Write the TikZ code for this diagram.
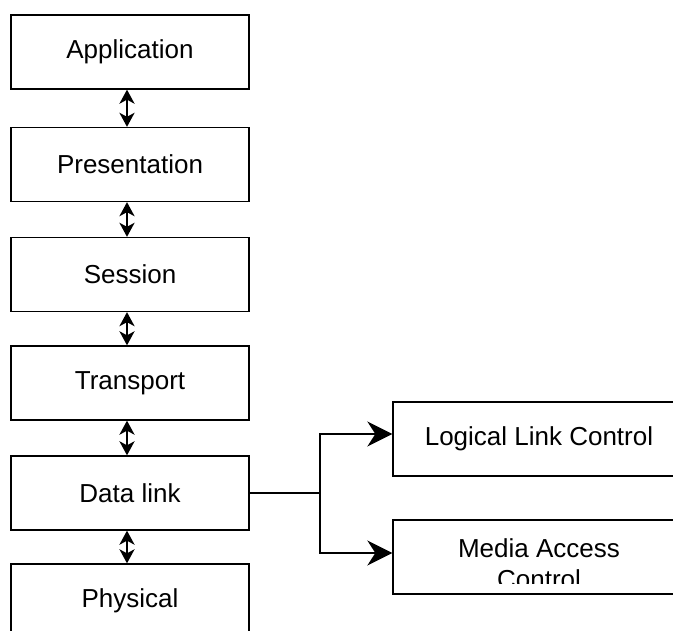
\documentclass[tikz,border=0pt]{standalone}
\usepackage{fontspec}
\setmainfont{Liberation Sans}
\usetikzlibrary{arrows.meta}
\tikzset{
    layer/.style={rectangle, draw, line width=1.3pt, minimum width=238pt,
    	minimum height=74pt, inner sep=0pt, font=\fontsize{26}{31}\selectfont}
}
\tikzset{
    sublayer/.style={layer, minimum width=292pt, align=center}
}
\tikzset{
    updown/.style={line width=2.5pt,
    	{Stealth[length=14pt,width=15pt,inset=4pt]}-{Stealth[length=14pt,width=15pt,inset=4pt]}},
    split/.style={line width=1.7pt, -{Stealth[length=25pt,width=25pt,inset=8pt]}}
}

\begin{document}
\begin{tikzpicture}[x=1pt, y=-1pt]
  \useasboundingbox (0,0) rectangle (673,631);
  \clip (0,0) rectangle (673,631);

  \node (app) [layer] at (130, 52) {Application};
  \node (pres) [layer] at (130, 164.5) {Presentation};
  \node (sess) [layer] at (130, 274.5) {Session};
  \node (trans) [layer] at (130, 383) {Transport};
  \node (dl) [layer] at (130, 493) {Data link};
  \node (phys) [layer] at (130, 601) {Physical};

  \node (llc) [sublayer] at (539, 439) {Logical Link Control};
  \node (mac) [sublayer] at (539, 557) {};
  \begin{scope}
    \clip (393, 520) rectangle (690, 583);
    \node (mactext) [font=\fontsize{26}{31}\selectfont, align=center] at (539, 564) {Media Access\\Control};
  \end{scope}

  \coordinate (fork) at (320, 493);

  \draw [updown] ([xshift=-3pt]app.south) -- ([xshift=-3pt]pres.north);
  \draw [updown] ([xshift=-3pt]pres.south) -- ([xshift=-3pt]sess.north);
  \draw [updown] ([xshift=-3pt]sess.south) -- ([xshift=-3pt]trans.north);
  \draw [updown] ([xshift=-3pt]trans.south) -- ([xshift=-3pt]dl.north);
  \draw [updown] ([xshift=-3pt]dl.south) -- ([xshift=-3pt]phys.north);

  \draw [line width=1.7pt] (dl.east) -- (fork);
  \draw [split] (fork) |- ([yshift=5pt]llc.west);
  \draw [split] (fork) |- ([yshift=4pt]mac.west);
\end{tikzpicture}
\end{document}
